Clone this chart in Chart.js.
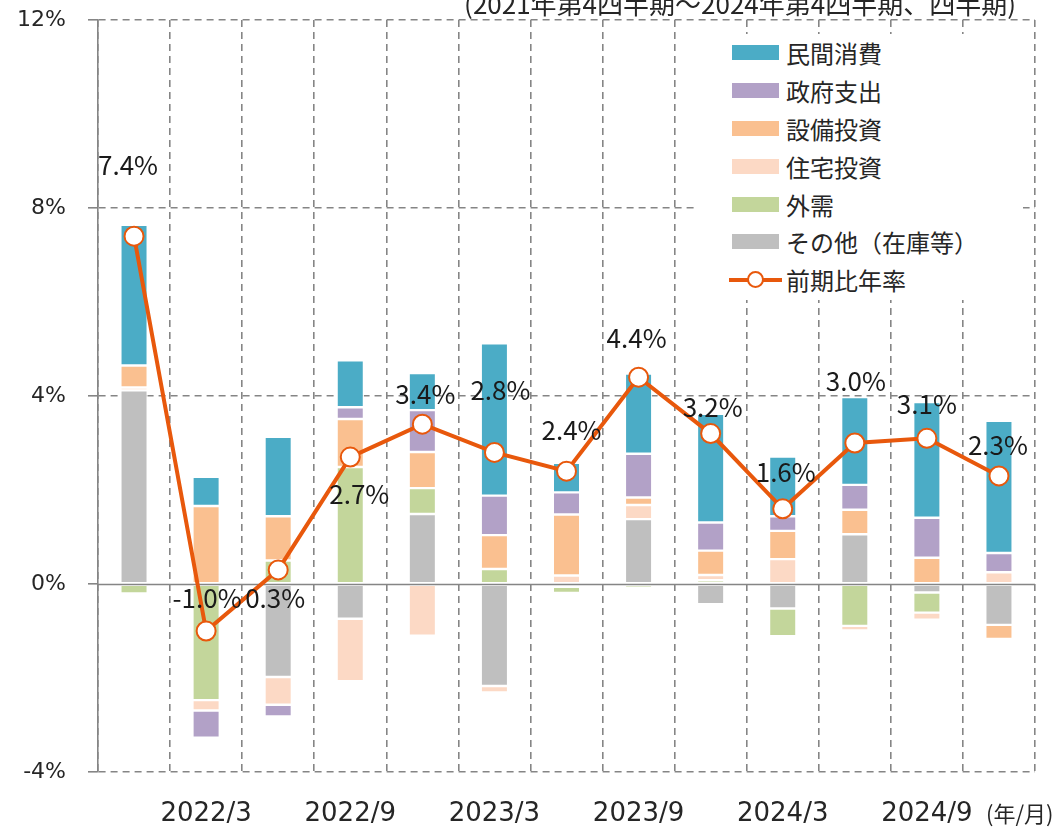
<!DOCTYPE html>
<html lang="ja">
<head>
<meta charset="utf-8">
<script src="https://cdn.jsdelivr.net/npm/chart.js@4.4.1/dist/chart.umd.min.js"></script>
<style>
  html, body { margin: 0; padding: 0; background: #fff; }
  #wrap { position: relative; width: 1059px; height: 828px; overflow: hidden;
          font-family: "Noto Sans CJK JP", sans-serif; color: #262626; }
  #wrap canvas { position: absolute; left: 0; top: 0; }
  .period { position: absolute; right: 43px; top: -10px; font-size: 26px; line-height: 26px; white-space: nowrap; }
  .unit { position: absolute; left: 986px; top: 798px; font-size: 22px; line-height: 28px; white-space: nowrap; }
  #legend { position: absolute; left: 697px; top: 34px; width: 326px; height: 266px; background: #fff; }
  .item { display: flex; align-items: center; height: 37.8px; font-size: 24px; white-space: nowrap; }
  .sw { width: 47px; height: 15px; margin-left: 35px; margin-right: 7px; }
  .ln { position: relative; width: 53px; height: 4px; margin-left: 32px; margin-right: 4px; }
  .ln span { position: absolute; left: 18px; top: -6.5px; width: 13px; height: 13px;
             border: 2px solid; border-radius: 50%; background: #fff; }
</style>
</head>
<body>
<div id="wrap">
  <canvas id="gdp" width="1059" height="828"></canvas>
  <div class="period">(2021年第4四半期～2024年第4四半期、四半期)</div>
  <div class="unit">(年/月)</div>
  <div id="legend"></div>
</div>
<script>
// 実質GDP成長率の寄与度分解 (%pt)
const quarters = ['2021/12', '2022/3', '2022/6', '2022/9', '2022/12', '2023/3', '2023/6',
                  '2023/9', '2023/12', '2024/3', '2024/6', '2024/9', '2024/12'];
const privateConsumption = [2.99, 0.62, 1.69, 1.00, 0.79, 3.24, 0.63, 1.71, 2.31, 1.27, 1.87, 2.46, 2.81];
const govSpending        = [0, -0.58, -0.25, 0.25, 0.89, 0.84, 0.47, 0.93, 0.60, 0.31, 0.53, 0.85, 0.41];
const capex              = [0.47, 1.66, 0.94, 1.02, 0.77, 0.72, 1.30, 0.16, 0.52, 0.60, 0.52, 0.56, -0.30];
const housing            = [0.06, -0.22, -0.59, -1.33, -1.10, -0.14, 0.18, 0.30, 0.11, 0.53, -0.10, -0.15, 0.25];
const netExports         = [-0.20, -2.47, 0.50, 2.49, 0.55, 0.32, -0.13, -0.08, 0.08, -0.59, -0.89, -0.43, 0];
const others             = [4.12, 0, -1.98, -0.74, 1.49, -2.17, -0.06, 1.38, -0.43, -0.52, 1.06, -0.18, -0.87];
const annualized         = [7.4, -1.0, 0.3, 2.7, 3.4, 2.8, 2.4, 4.4, 3.2, 1.6, 3.0, 3.1, 2.3];
const yTicks = [-4, 0, 4, 8, 12];

// ラベル位置の微調整 (px)
const labelShift = [[-6, -71], [1, -33], [-3, 28], [9, 37], [3, -30], [6, -62], [5, -41],
                    [-2, -39], [2, -26], [3, -37], [1, -62], [0, -34], [-1, -31]];

const GRID = '#858585';
const LINE = '#e8580c';
const FONT = '"Noto Sans CJK JP", sans-serif';
const AXIS_FONT = '"DejaVu Sans", sans-serif';

function bar(label, data, color) {
    return {
        type: 'bar', label, data,
        backgroundColor: color,
        borderColor: '#ffffff',
        borderWidth: 1.2,
        borderSkipped: false,
        barPercentage: 0.38,
        categoryPercentage: 1,
        order: 1
    };
}

// 積み上げは 0 に近い順、凡例は逆順
const datasets = [
    {
        type: 'line', label: '前期比年率', data: annualized, stack: 'line',
        borderColor: LINE, borderWidth: 4, tension: 0,
        pointRadius: 9.5, pointBorderWidth: 2,
        pointBackgroundColor: '#ffffff', pointBorderColor: LINE,
        order: 0
    },
    bar('その他（在庫等）', others, '#bfbfbf'),
    bar('外需', netExports, '#c3d69b'),
    bar('住宅投資', housing, '#fcd9c5'),
    bar('設備投資', capex, '#fac090'),
    bar('政府支出', govSpending, '#b2a1c7'),
    bar('民間消費', privateConsumption, '#4bacc6')
];

const overlay = {
    id: 'overlay',
    beforeDatasetDraw(chart, args) {
        if (args.index !== 0) return;
        const { ctx, chartArea, scales: { y } } = chart;
        const y0 = Math.round(y.getPixelForValue(0)) + 0.5;
        ctx.save();
        ctx.strokeStyle = GRID;
        ctx.lineWidth = 1.6;
        ctx.beginPath();
        ctx.moveTo(chartArea.left, y0);
        ctx.lineTo(chartArea.right, y0);
        ctx.stroke();
        ctx.restore();
    },
    afterDatasetsDraw(chart) {
        const { ctx } = chart;
        const pts = chart.getDatasetMeta(0).data;
        ctx.save();
        ctx.font = '26px ' + FONT;
        ctx.fillStyle = '#1a1a1a';
        ctx.textAlign = 'center';
        ctx.textBaseline = 'middle';
        pts.forEach((p, i) => {
            const [dx, dy] = labelShift[i];
            ctx.fillText(annualized[i].toFixed(1) + '%', p.x + dx, p.y + dy);
        });
        ctx.restore();
    }
};

const chart = new Chart(document.getElementById('gdp').getContext('2d'), {
    data: { labels: quarters, datasets },
    options: {
        responsive: false,
        animation: false,
        layout: { padding: { top: 20, right: 24, left: 0, bottom: 0 } },
        plugins: { legend: { display: false }, tooltip: { enabled: false } },
        scales: {
            x: {
                stacked: true,
                grid: { offset: true, color: GRID, lineWidth: 1.6, drawTicks: false },
                border: { display: false, dash: [7, 5] },
                ticks: {
                    autoSkip: false, maxRotation: 0, padding: 27,
                    color: '#262626', font: { family: AXIS_FONT, size: 26 },
                    callback: (v, i) => (i % 2 === 1 ? quarters[i] : '')
                },
                afterFit: s => { s.height = 56; }
            },
            y: {
                stacked: true,
                min: yTicks[0], max: yTicks[yTicks.length - 1],
                afterBuildTicks: s => { s.ticks = yTicks.map(v => ({ value: v })); },
                grid: {
                    color: c => (c.tick && c.tick.value === 0 ? 'rgba(0,0,0,0)' : GRID),
                    tickColor: GRID, lineWidth: 1.6, tickLength: 10
                },
                border: { display: true, color: GRID, width: 1.6, dash: [7, 5] },
                ticks: {
                    padding: 22, color: '#262626', font: { family: AXIS_FONT, size: 22 },
                    callback: v => v + '%'
                },
                afterFit: s => { s.width = 98; s.paddingTop = 0; s.paddingBottom = 0; }
            }
        }
    },
    plugins: [overlay]
});

// 凡例 (グラフ内右上、白地)
const legendBox = document.getElementById('legend');
const ordered = datasets.slice(1).reverse().concat(datasets[0]);
legendBox.innerHTML = ordered.map(d => {
    const icon = d.type === 'line'
        ? `<div class="ln" style="background:${d.borderColor}"><span style="border-color:${d.borderColor}"></span></div>`
        : `<div class="sw" style="background:${d.backgroundColor}"></div>`;
    return `<div class="item">${icon}<span>${d.label}</span></div>`;
}).join('');
</script>
</body>
</html>
